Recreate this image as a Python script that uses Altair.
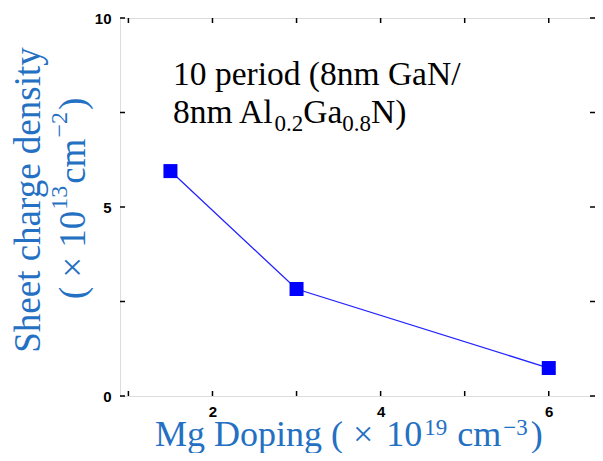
import altair as alt
import pandas as pd

# data
doping = [1.5, 3.0, 6.0]
density = [5.95, 2.83, 0.74]
x_ticks = [1, 2, 3, 4, 5, 6]
x_labels = [2, 4, 6]
y_ticks = [0, 2.5, 5, 7.5, 10]
y_labels = [0, 5, 10]

W, H = 475, 378
SERIF = "Liberation Serif"
SANS = "Liberation Sans"
BLUE_T = "#2470c2"

df = pd.DataFrame({"doping": doping, "density": density})
xt = pd.DataFrame({"x": x_ticks})
yt = pd.DataFrame({"y": y_ticks})
one = pd.DataFrame({"a": [0]})

# Times / Liberation Serif advance widths (per 1000 em) for the label glyphs
TW = {" ": 250, "(": 333, ")": 333, ".": 250, "/": 278, "A": 722, "D": 722, "G": 722,
      "M": 889, "N": 722, "a": 444, "c": 444, "g": 500, "i": 278, "l": 278, "m": 778,
      "n": 500, "o": 500, "p": 500, "\u00d7": 564, "\u2212": 564}


def tw(s, size):
    return sum(TW.get(ch, 500) for ch in s) * size / 1000.0


xs = alt.Scale(domain=[0.9, 6.55], nice=False, zero=False)
ys = alt.Scale(domain=[0, 10], nice=False)

xaxis = alt.Axis(values=x_labels, format="d", ticks=False, tickSize=0, domain=False, grid=False,
                 title=None, labelFont=SANS, labelFontWeight="bold", labelFontSize=15,
                 labelColor="black", labelPadding=8)
yaxis = alt.Axis(values=y_labels, format="d", ticks=False, tickSize=0, domain=False, grid=False,
                 title=None, labelFont=SANS, labelFontWeight="bold", labelFontSize=15,
                 labelColor="black", labelPadding=9)

line = alt.Chart(df).mark_line(color="#2222ff", strokeWidth=1.3).encode(
    x=alt.X("doping:Q", scale=xs, axis=xaxis),
    y=alt.Y("density:Q", scale=ys, axis=yaxis),
)
pts = alt.Chart(df).mark_point(shape="square", filled=True, size=196, color="#0000ff", opacity=1).encode(
    x=alt.X("doping:Q", scale=xs), y=alt.Y("density:Q", scale=ys)
)

TL = 5
tick_b = alt.Chart(xt).mark_rule(color="black", strokeWidth=1.5).encode(
    x=alt.X("x:Q", scale=xs), y=alt.value(H), y2=alt.value(H - TL))
tick_t = alt.Chart(xt).mark_rule(color="black", strokeWidth=1.5).encode(
    x=alt.X("x:Q", scale=xs), y=alt.value(0), y2=alt.value(TL))
tick_l = alt.Chart(yt).mark_rule(color="black", strokeWidth=1.5).encode(
    y=alt.Y("y:Q", scale=ys), x=alt.value(0), x2=alt.value(TL))
tick_r = alt.Chart(yt).mark_rule(color="black", strokeWidth=1.5).encode(
    y=alt.Y("y:Q", scale=ys), x=alt.value(W), x2=alt.value(W - TL))


def label(text, x, y, size, color="black", angle=0, align="left", baseline="alphabetic"):
    return alt.Chart(one).mark_text(text=text, align=align, baseline=baseline, fontSize=size,
                                    font=SERIF, color=color, angle=angle).encode(
        x=alt.value(x), y=alt.value(y))


def run_h(segs, x0, color):
    """segs: (text, size, baseline_y, gap_before)"""
    out, x = [], x0
    for text, size, by, gap in segs:
        x += gap
        out.append(label(text, x, by, size, color))
        x += tw(text, size)
    return out


def run_v(segs, y0, color):
    """vertical text reading bottom->top; segs: (text, size, baseline_x, gap_before)"""
    out, y = [], y0
    for text, size, bx, gap in segs:
        y -= gap
        out.append(label(text, bx, y, size, color, angle=270))
        y -= tw(text, size)
    return out


A, AS = 33.5, 23
texts = [label("10 period (8nm GaN/", 53, 67, A)]
texts += run_h([("8nm Al", A, 105, 0), ("0.2", AS, 113, 0), ("Ga", A, 105, 0),
                ("0.8", AS, 113, 0), ("N)", A, 105, 0)], 53, "black")

XT, XS = 36, 23
texts += run_h([("Mg Doping (", XT, 428, 0), ("\u00d7", XT, 428, 10), ("10", XT, 428, 13),
                ("19", XS, 417, 2), ("cm", XT, 428, 10), ("\u22123", XS, 417, 2),
                (")", XT, 428, 3)], 35, BLUE_T)

YT, YS = 37, 24
texts.append(label("Sheet charge density", -80, 182, YT, BLUE_T, angle=270, align="center"))
texts += run_v([("(", YT, -35, 0), ("\u00d7", YT, -35, 9), ("10", YT, -35, 9),
                ("13", YS, -53, 1), ("cm", YT, -35, 2), ("\u22122", YS, -53, 1),
                (")", YT, -35, 2)], 281, BLUE_T)

chart = alt.layer(line, pts, tick_b, tick_t, tick_l, tick_r, *texts).properties(
    width=W, height=H,
    autosize=alt.AutoSizeParams(type="none"),
    padding={"left": 112, "top": 10, "right": 0, "bottom": 57},
).configure_view(stroke="black", strokeWidth=1.6).configure(background="white")

chart.save("out.html", embed_options={"renderer": "svg", "actions": False})
